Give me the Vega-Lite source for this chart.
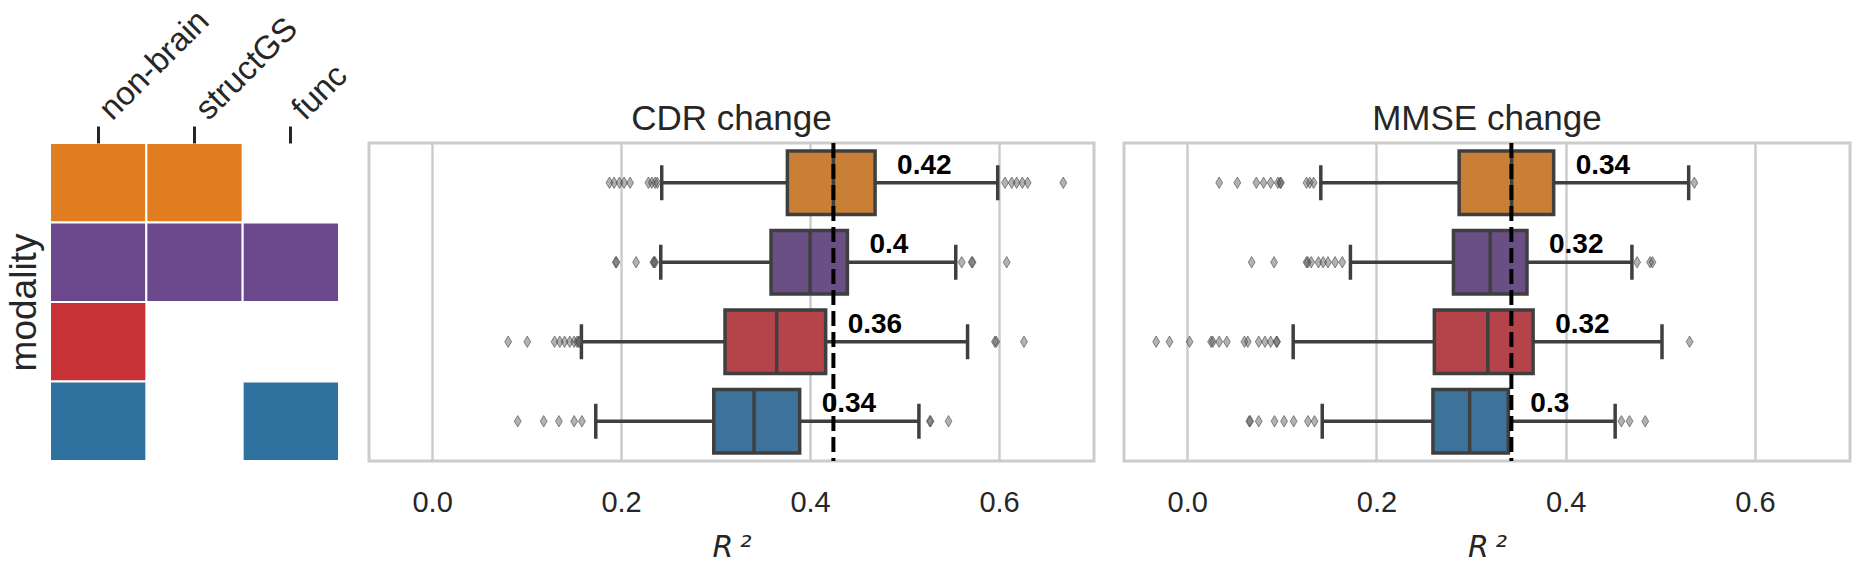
{
  "$schema": "https://vega.github.io/schema/vega-lite/v6.json",
  "background": "white",
  "padding": {"left": 5, "top": 4, "right": 5, "bottom": 0},
  "datasets": {
    "cells": [
      {"modality": "non-brain + structGS", "input": "non-brain"},
      {"modality": "non-brain + structGS", "input": "structGS"},
      {"modality": "non-brain + structGS + func", "input": "non-brain"},
      {"modality": "non-brain + structGS + func", "input": "structGS"},
      {"modality": "non-brain + structGS + func", "input": "func"},
      {"modality": "non-brain", "input": "non-brain"},
      {"modality": "non-brain + func", "input": "non-brain"},
      {"modality": "non-brain + func", "input": "func"}
    ],
    "stats": [
      {"target": "CDR", "modality": "non-brain + structGS", "lower": 0.243, "q1": 0.376, "median": 0.4247, "q3": 0.4688, "upper": 0.5986, "label": "0.42"},
      {"target": "CDR", "modality": "non-brain + structGS + func", "lower": 0.242, "q1": 0.3587, "median": 0.4, "q3": 0.4395, "upper": 0.5542, "label": "0.4"},
      {"target": "CDR", "modality": "non-brain", "lower": 0.158, "q1": 0.31, "median": 0.3647, "q3": 0.4165, "upper": 0.5667, "label": "0.36"},
      {"target": "CDR", "modality": "non-brain + func", "lower": 0.1732, "q1": 0.2981, "median": 0.3407, "q3": 0.389, "upper": 0.5152, "label": "0.34"},
      {"target": "MMSE", "modality": "non-brain + structGS", "lower": 0.1412, "q1": 0.2874, "median": 0.3429, "q3": 0.3873, "upper": 0.53, "label": "0.34"},
      {"target": "MMSE", "modality": "non-brain + structGS + func", "lower": 0.1725, "q1": 0.2814, "median": 0.3202, "q3": 0.3591, "upper": 0.47, "label": "0.32"},
      {"target": "MMSE", "modality": "non-brain", "lower": 0.112, "q1": 0.2612, "median": 0.3177, "q3": 0.3656, "upper": 0.5018, "label": "0.32"},
      {"target": "MMSE", "modality": "non-brain + func", "lower": 0.1427, "q1": 0.2597, "median": 0.2985, "q3": 0.3394, "upper": 0.4523, "label": "0.3"}
    ],
    "ref": [
      {"target": "CDR", "value": 0.4247},
      {"target": "MMSE", "value": 0.3426}
    ],
    "outliers": [
      {"target": "CDR", "modality": "non-brain + structGS", "value": 0.1877},
      {"target": "CDR", "modality": "non-brain + structGS", "value": 0.1926},
      {"target": "CDR", "modality": "non-brain + structGS", "value": 0.1982},
      {"target": "CDR", "modality": "non-brain + structGS", "value": 0.2032},
      {"target": "CDR", "modality": "non-brain + structGS", "value": 0.2095},
      {"target": "CDR", "modality": "non-brain + structGS", "value": 0.2289},
      {"target": "CDR", "modality": "non-brain + structGS", "value": 0.2325},
      {"target": "CDR", "modality": "non-brain + structGS", "value": 0.236},
      {"target": "CDR", "modality": "non-brain + structGS", "value": 0.2384},
      {"target": "CDR", "modality": "non-brain + structGS", "value": 0.6063},
      {"target": "CDR", "modality": "non-brain + structGS", "value": 0.6134},
      {"target": "CDR", "modality": "non-brain + structGS", "value": 0.6187},
      {"target": "CDR", "modality": "non-brain + structGS", "value": 0.6247},
      {"target": "CDR", "modality": "non-brain + structGS", "value": 0.6303},
      {"target": "CDR", "modality": "non-brain + structGS", "value": 0.668},
      {"target": "CDR", "modality": "non-brain + structGS + func", "value": 0.1944},
      {"target": "CDR", "modality": "non-brain + structGS + func", "value": 0.195},
      {"target": "CDR", "modality": "non-brain + structGS + func", "value": 0.2159},
      {"target": "CDR", "modality": "non-brain + structGS + func", "value": 0.2342},
      {"target": "CDR", "modality": "non-brain + structGS + func", "value": 0.235},
      {"target": "CDR", "modality": "non-brain + structGS + func", "value": 0.236},
      {"target": "CDR", "modality": "non-brain + structGS + func", "value": 0.5605},
      {"target": "CDR", "modality": "non-brain + structGS + func", "value": 0.5711},
      {"target": "CDR", "modality": "non-brain + structGS + func", "value": 0.572},
      {"target": "CDR", "modality": "non-brain + structGS + func", "value": 0.6081},
      {"target": "CDR", "modality": "non-brain", "value": 0.0805},
      {"target": "CDR", "modality": "non-brain", "value": 0.1007},
      {"target": "CDR", "modality": "non-brain", "value": 0.1296},
      {"target": "CDR", "modality": "non-brain", "value": 0.1351},
      {"target": "CDR", "modality": "non-brain", "value": 0.1402},
      {"target": "CDR", "modality": "non-brain", "value": 0.1457},
      {"target": "CDR", "modality": "non-brain", "value": 0.1503},
      {"target": "CDR", "modality": "non-brain", "value": 0.1534},
      {"target": "CDR", "modality": "non-brain", "value": 0.155},
      {"target": "CDR", "modality": "non-brain", "value": 0.156},
      {"target": "CDR", "modality": "non-brain", "value": 0.5956},
      {"target": "CDR", "modality": "non-brain", "value": 0.597},
      {"target": "CDR", "modality": "non-brain", "value": 0.6264},
      {"target": "CDR", "modality": "non-brain + func", "value": 0.0906},
      {"target": "CDR", "modality": "non-brain + func", "value": 0.1181},
      {"target": "CDR", "modality": "non-brain + func", "value": 0.1342},
      {"target": "CDR", "modality": "non-brain + func", "value": 0.1503},
      {"target": "CDR", "modality": "non-brain + func", "value": 0.1585},
      {"target": "CDR", "modality": "non-brain + func", "value": 0.5268},
      {"target": "CDR", "modality": "non-brain + func", "value": 0.5275},
      {"target": "CDR", "modality": "non-brain + func", "value": 0.5465},
      {"target": "MMSE", "modality": "non-brain + structGS", "value": 0.0338},
      {"target": "MMSE", "modality": "non-brain + structGS", "value": 0.053},
      {"target": "MMSE", "modality": "non-brain + structGS", "value": 0.0731},
      {"target": "MMSE", "modality": "non-brain + structGS", "value": 0.0807},
      {"target": "MMSE", "modality": "non-brain + structGS", "value": 0.0882},
      {"target": "MMSE", "modality": "non-brain + structGS", "value": 0.0958},
      {"target": "MMSE", "modality": "non-brain + structGS", "value": 0.0983},
      {"target": "MMSE", "modality": "non-brain + structGS", "value": 0.099},
      {"target": "MMSE", "modality": "non-brain + structGS", "value": 0.1261},
      {"target": "MMSE", "modality": "non-brain + structGS", "value": 0.1296},
      {"target": "MMSE", "modality": "non-brain + structGS", "value": 0.1336},
      {"target": "MMSE", "modality": "non-brain + structGS", "value": 0.536},
      {"target": "MMSE", "modality": "non-brain + structGS + func", "value": 0.0681},
      {"target": "MMSE", "modality": "non-brain + structGS + func", "value": 0.0918},
      {"target": "MMSE", "modality": "non-brain + structGS + func", "value": 0.1261},
      {"target": "MMSE", "modality": "non-brain + structGS + func", "value": 0.1275},
      {"target": "MMSE", "modality": "non-brain + structGS + func", "value": 0.1311},
      {"target": "MMSE", "modality": "non-brain + structGS + func", "value": 0.1387},
      {"target": "MMSE", "modality": "non-brain + structGS + func", "value": 0.1437},
      {"target": "MMSE", "modality": "non-brain + structGS + func", "value": 0.1488},
      {"target": "MMSE", "modality": "non-brain + structGS + func", "value": 0.1563},
      {"target": "MMSE", "modality": "non-brain + structGS + func", "value": 0.1639},
      {"target": "MMSE", "modality": "non-brain + structGS + func", "value": 0.4755},
      {"target": "MMSE", "modality": "non-brain + structGS + func", "value": 0.4892},
      {"target": "MMSE", "modality": "non-brain + structGS + func", "value": 0.4917},
      {"target": "MMSE", "modality": "non-brain", "value": -0.0328},
      {"target": "MMSE", "modality": "non-brain", "value": -0.0187},
      {"target": "MMSE", "modality": "non-brain", "value": 0.0025},
      {"target": "MMSE", "modality": "non-brain", "value": 0.0252},
      {"target": "MMSE", "modality": "non-brain", "value": 0.027},
      {"target": "MMSE", "modality": "non-brain", "value": 0.0338},
      {"target": "MMSE", "modality": "non-brain", "value": 0.0419},
      {"target": "MMSE", "modality": "non-brain", "value": 0.0605},
      {"target": "MMSE", "modality": "non-brain", "value": 0.064},
      {"target": "MMSE", "modality": "non-brain", "value": 0.0756},
      {"target": "MMSE", "modality": "non-brain", "value": 0.0822},
      {"target": "MMSE", "modality": "non-brain", "value": 0.0882},
      {"target": "MMSE", "modality": "non-brain", "value": 0.0943},
      {"target": "MMSE", "modality": "non-brain", "value": 0.095},
      {"target": "MMSE", "modality": "non-brain", "value": 0.531},
      {"target": "MMSE", "modality": "non-brain + func", "value": 0.0656},
      {"target": "MMSE", "modality": "non-brain + func", "value": 0.0665},
      {"target": "MMSE", "modality": "non-brain + func", "value": 0.0756},
      {"target": "MMSE", "modality": "non-brain + func", "value": 0.0923},
      {"target": "MMSE", "modality": "non-brain + func", "value": 0.1024},
      {"target": "MMSE", "modality": "non-brain + func", "value": 0.1125},
      {"target": "MMSE", "modality": "non-brain + func", "value": 0.1276},
      {"target": "MMSE", "modality": "non-brain + func", "value": 0.1346},
      {"target": "MMSE", "modality": "non-brain + func", "value": 0.4589},
      {"target": "MMSE", "modality": "non-brain + func", "value": 0.4675},
      {"target": "MMSE", "modality": "non-brain + func", "value": 0.4841}
    ]
  },
  "spacing": 30,
  "bounds": "flush",
  "resolve": {"scale": {"color": "independent"}},
  "hconcat": [
    {
      "width": 289,
      "height": 318,
      "view": {"stroke": null},
      "data": {"name": "cells"},
      "mark": {"type": "rect", "stroke": "white", "strokeWidth": 2},
      "encoding": {
        "x": {"field": "input", "type": "nominal",
          "scale": {"domain": ["non-brain", "structGS", "func"], "paddingInner": 0, "paddingOuter": 0},
          "axis": {"orient": "top", "title": null, "labelAngle": -45, "labelAlign": "left", "labelBaseline": "middle", "labelFontSize": 33, "labelPadding": 12, "labelOffset": 7, "tickSize": 17, "tickWidth": 3, "tickColor": "#262626", "labelColor": "#262626", "domain": false, "grid": false}},
        "y": {"field": "modality", "type": "nominal",
          "scale": {"domain": ["non-brain + structGS", "non-brain + structGS + func", "non-brain", "non-brain + func"], "paddingInner": 0, "paddingOuter": 0},
          "axis": {"title": "modality", "labels": false, "ticks": false, "domain": false, "grid": false, "titleFontSize": 37, "titlePadding": 7, "titleFontWeight": "normal", "titleColor": "#262626"}},
        "color": {"field": "modality", "type": "nominal",
          "scale": {"domain": ["non-brain + structGS", "non-brain + structGS + func", "non-brain", "non-brain + func"], "range": ["#E07E21", "#6A488B", "#C73236", "#2F72A0"]},
          "legend": null}
      }
    },
    {
      "width": 725,
      "height": 318,
      "title": {"text": "CDR change", "anchor": "middle", "fontSize": 35, "fontWeight": "normal", "font": "Liberation Sans", "color": "#262626", "baseline": "alphabetic", "offset": -24},
      "layer": [
        {
          "data": {"name": "stats"},
          "transform": [{"filter": "datum.target === 'CDR'"}],
          "mark": {"type": "rule", "stroke": "#3f3f3f", "strokeWidth": 3.5},
          "encoding": {
            "x": {"field": "lower", "type": "quantitative", "scale": {"domain": [-0.0668, 0.7005], "nice": false, "zero": false},
              "axis": {"values": [0, 0.2, 0.4, 0.6], "format": ".1f", "grid": true, "gridColor": "#cccccc", "gridWidth": 2.5, "domain": false, "ticks": false, "labelPadding": 27, "labelFontSize": 29, "labelColor": "#262626", "title": "R\u2009²", "titleFont": "DejaVu Sans", "titleFontStyle": "italic", "titleFontSize": 30, "titleFontWeight": "normal", "titleColor": "#262626", "titlePadding": 15}},
            "x2": {"field": "upper"},
            "y": {"field": "modality", "type": "nominal", "scale": {"domain": ["non-brain + structGS", "non-brain + structGS + func", "non-brain", "non-brain + func"], "paddingInner": 0.2, "paddingOuter": 0.1}, "axis": null}
          }
        },
        {
          "data": {"name": "stats"},
          "transform": [{"filter": "datum.target === 'CDR'"}],
          "mark": {"type": "tick", "orient": "vertical", "size": 35, "thickness": 3.5, "color": "#3f3f3f", "opacity": 1},
          "encoding": {
            "x": {"field": "lower", "type": "quantitative"},
            "y": {"field": "modality", "type": "nominal", "axis": null}
          }
        },
        {
          "data": {"name": "stats"},
          "transform": [{"filter": "datum.target === 'CDR'"}],
          "mark": {"type": "tick", "orient": "vertical", "size": 35, "thickness": 3.5, "color": "#3f3f3f", "opacity": 1},
          "encoding": {
            "x": {"field": "upper", "type": "quantitative"},
            "y": {"field": "modality", "type": "nominal", "axis": null}
          }
        },
        {
          "data": {"name": "stats"},
          "transform": [{"filter": "datum.target === 'CDR'"}],
          "mark": {"type": "bar", "stroke": "#3f3f3f", "strokeWidth": 3.5, "opacity": 1},
          "encoding": {
            "x": {"field": "q1", "type": "quantitative"},
            "x2": {"field": "q3"},
            "y": {"field": "modality", "type": "nominal", "axis": null},
            "color": {"field": "modality", "type": "nominal",
              "scale": {"domain": ["non-brain + structGS", "non-brain + structGS + func", "non-brain", "non-brain + func"], "range": ["#C98036", "#6A4F85", "#B5444A", "#3D729A"]},
              "legend": null}
          }
        },
        {
          "data": {"name": "stats"},
          "transform": [{"filter": "datum.target === 'CDR'"}],
          "mark": {"type": "tick", "orient": "vertical", "size": 62, "thickness": 3.5, "color": "#3f3f3f", "opacity": 1},
          "encoding": {
            "x": {"field": "median", "type": "quantitative"},
            "y": {"field": "modality", "type": "nominal", "axis": null}
          }
        },
        {
          "data": {"name": "outliers"},
          "transform": [{"filter": "datum.target === 'CDR'"}],
          "mark": {"type": "point", "shape": "M0,-1L0.6,0L0,1L-0.6,0Z", "size": 130, "filled": true, "fill": "#555555", "fillOpacity": 0.45, "stroke": "#444444", "strokeOpacity": 0.6, "strokeWidth": 1, "opacity": 1},
          "encoding": {
            "x": {"field": "value", "type": "quantitative"},
            "y": {"field": "modality", "type": "nominal", "axis": null}
          }
        },
        {
          "data": {"name": "ref"},
          "transform": [{"filter": "datum.target === 'CDR'"}],
          "mark": {"type": "rule", "strokeDash": [15, 6], "strokeWidth": 4, "color": "black"},
          "encoding": {
            "x": {"field": "value", "type": "quantitative"}
          }
        },
        {
          "data": {"name": "stats"},
          "transform": [{"filter": "datum.target === 'CDR'"}],
          "mark": {"type": "text", "align": "left", "baseline": "alphabetic", "dx": 22, "dy": -9, "font": "Liberation Sans", "fontWeight": "bold", "fontSize": 28, "color": "black"},
          "encoding": {
            "x": {"field": "q3", "type": "quantitative"},
            "y": {"field": "modality", "type": "nominal", "axis": null},
            "text": {"field": "label"}
          }
        }
      ]
    },
    {
      "width": 726,
      "height": 318,
      "title": {"text": "MMSE change", "anchor": "middle", "fontSize": 35, "fontWeight": "normal", "font": "Liberation Sans", "color": "#262626", "baseline": "alphabetic", "offset": -24},
      "layer": [
        {
          "data": {"name": "stats"},
          "transform": [{"filter": "datum.target === 'MMSE'"}],
          "mark": {"type": "rule", "stroke": "#3f3f3f", "strokeWidth": 3.5},
          "encoding": {
            "x": {"field": "lower", "type": "quantitative", "scale": {"domain": [-0.0668, 0.7005], "nice": false, "zero": false},
              "axis": {"values": [0, 0.2, 0.4, 0.6], "format": ".1f", "grid": true, "gridColor": "#cccccc", "gridWidth": 2.5, "domain": false, "ticks": false, "labelPadding": 27, "labelFontSize": 29, "labelColor": "#262626", "title": "R\u2009²", "titleFont": "DejaVu Sans", "titleFontStyle": "italic", "titleFontSize": 30, "titleFontWeight": "normal", "titleColor": "#262626", "titlePadding": 15}},
            "x2": {"field": "upper"},
            "y": {"field": "modality", "type": "nominal", "scale": {"domain": ["non-brain + structGS", "non-brain + structGS + func", "non-brain", "non-brain + func"], "paddingInner": 0.2, "paddingOuter": 0.1}, "axis": null}
          }
        },
        {
          "data": {"name": "stats"},
          "transform": [{"filter": "datum.target === 'MMSE'"}],
          "mark": {"type": "tick", "orient": "vertical", "size": 35, "thickness": 3.5, "color": "#3f3f3f", "opacity": 1},
          "encoding": {
            "x": {"field": "lower", "type": "quantitative"},
            "y": {"field": "modality", "type": "nominal", "axis": null}
          }
        },
        {
          "data": {"name": "stats"},
          "transform": [{"filter": "datum.target === 'MMSE'"}],
          "mark": {"type": "tick", "orient": "vertical", "size": 35, "thickness": 3.5, "color": "#3f3f3f", "opacity": 1},
          "encoding": {
            "x": {"field": "upper", "type": "quantitative"},
            "y": {"field": "modality", "type": "nominal", "axis": null}
          }
        },
        {
          "data": {"name": "stats"},
          "transform": [{"filter": "datum.target === 'MMSE'"}],
          "mark": {"type": "bar", "stroke": "#3f3f3f", "strokeWidth": 3.5, "opacity": 1},
          "encoding": {
            "x": {"field": "q1", "type": "quantitative"},
            "x2": {"field": "q3"},
            "y": {"field": "modality", "type": "nominal", "axis": null},
            "color": {"field": "modality", "type": "nominal",
              "scale": {"domain": ["non-brain + structGS", "non-brain + structGS + func", "non-brain", "non-brain + func"], "range": ["#C98036", "#6A4F85", "#B5444A", "#3D729A"]},
              "legend": null}
          }
        },
        {
          "data": {"name": "stats"},
          "transform": [{"filter": "datum.target === 'MMSE'"}],
          "mark": {"type": "tick", "orient": "vertical", "size": 62, "thickness": 3.5, "color": "#3f3f3f", "opacity": 1},
          "encoding": {
            "x": {"field": "median", "type": "quantitative"},
            "y": {"field": "modality", "type": "nominal", "axis": null}
          }
        },
        {
          "data": {"name": "outliers"},
          "transform": [{"filter": "datum.target === 'MMSE'"}],
          "mark": {"type": "point", "shape": "M0,-1L0.6,0L0,1L-0.6,0Z", "size": 130, "filled": true, "fill": "#555555", "fillOpacity": 0.45, "stroke": "#444444", "strokeOpacity": 0.6, "strokeWidth": 1, "opacity": 1},
          "encoding": {
            "x": {"field": "value", "type": "quantitative"},
            "y": {"field": "modality", "type": "nominal", "axis": null}
          }
        },
        {
          "data": {"name": "ref"},
          "transform": [{"filter": "datum.target === 'MMSE'"}],
          "mark": {"type": "rule", "strokeDash": [15, 6], "strokeWidth": 4, "color": "black"},
          "encoding": {
            "x": {"field": "value", "type": "quantitative"}
          }
        },
        {
          "data": {"name": "stats"},
          "transform": [{"filter": "datum.target === 'MMSE'"}],
          "mark": {"type": "text", "align": "left", "baseline": "alphabetic", "dx": 22, "dy": -9, "font": "Liberation Sans", "fontWeight": "bold", "fontSize": 28, "color": "black"},
          "encoding": {
            "x": {"field": "q3", "type": "quantitative"},
            "y": {"field": "modality", "type": "nominal", "axis": null},
            "text": {"field": "label"}
          }
        }
      ]
    }
  ],
  "config": {
    "font": "Liberation Sans",
    "view": {"stroke": "#cccccc", "strokeWidth": 3},
    "axis": {"labelFont": "Liberation Sans", "titleFont": "Liberation Sans"}
  }
}
